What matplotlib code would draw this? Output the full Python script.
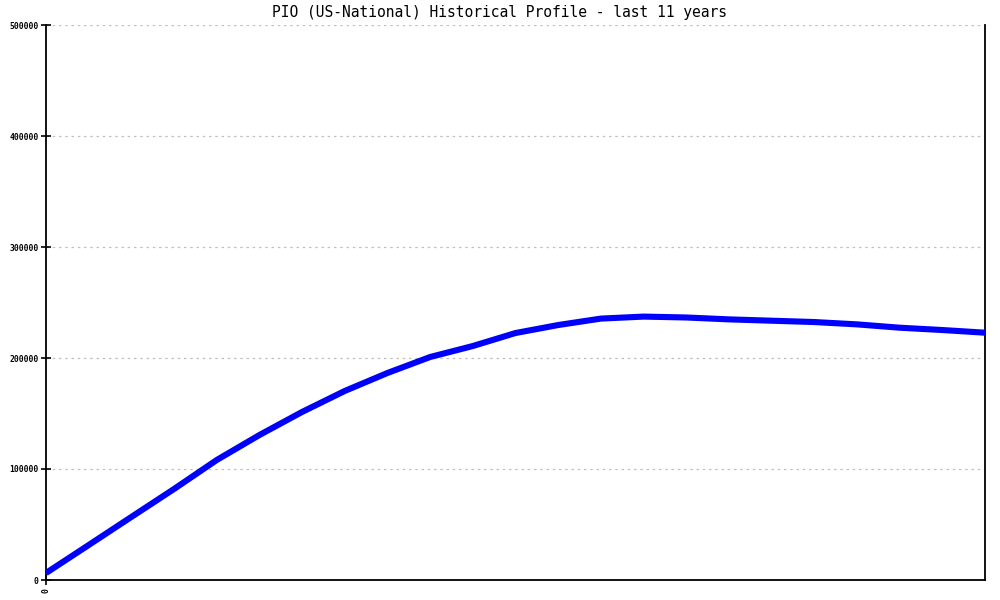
import matplotlib
matplotlib.use("Agg")
import matplotlib.pyplot as plt

title = "PIO (US-National) Historical Profile - last 11 years"
x_index = list(range(23))
values = [6300, 31500, 56800, 82000, 108100, 130600, 151400, 170300, 186500,
          200900, 210800, 222500, 229700, 235500, 237300, 236500, 234800,
          233600, 232400, 230300, 227300, 225200, 222800]
y_ticks = [0, 100000, 200000, 300000, 400000, 500000]
x_ticks = [0]

fig = plt.figure(figsize=(10, 6), dpi=100)
ax = fig.add_axes([0.046, 1 - 580 / 600, 0.985 - 0.046, (580 - 25) / 600])

ax.plot(x_index, values, color="#0000ff", linewidth=4.4, solid_capstyle="butt",
        solid_joinstyle="round", zorder=3)

ax.set_xlim(0, 22)
ax.set_ylim(0, 500000)
ax.set_yticks(y_ticks)
ax.set_yticklabels([str(v) for v in y_ticks], fontfamily="DejaVu Sans Mono",
                   fontsize=5.8, fontweight="bold")
ax.set_xticks(x_ticks)
ax.set_xticklabels([str(v) for v in x_ticks], fontfamily="DejaVu Sans Mono",
                   fontsize=5.8, fontweight="bold", rotation=90)
ax.tick_params(axis="y", direction="inout", length=7, width=1.2, pad=2)
ax.tick_params(axis="x", direction="inout", length=7, width=1.2, pad=2)

ax.grid(axis="y", color="#c0c0c0", linestyle=(0, (2, 3)), linewidth=0.9)
ax.set_axisbelow(True)

for s in ["left", "bottom", "right"]:
    ax.spines[s].set_linewidth(1.3)
    ax.spines[s].set_color("black")
ax.spines["top"].set_visible(False)

fig.text(0.5, 1 - 13 / 600, title, ha="center", va="center",
         fontfamily="DejaVu Sans Mono", fontsize=10.5)

fig.savefig("out.png", dpi=100, facecolor="white")
